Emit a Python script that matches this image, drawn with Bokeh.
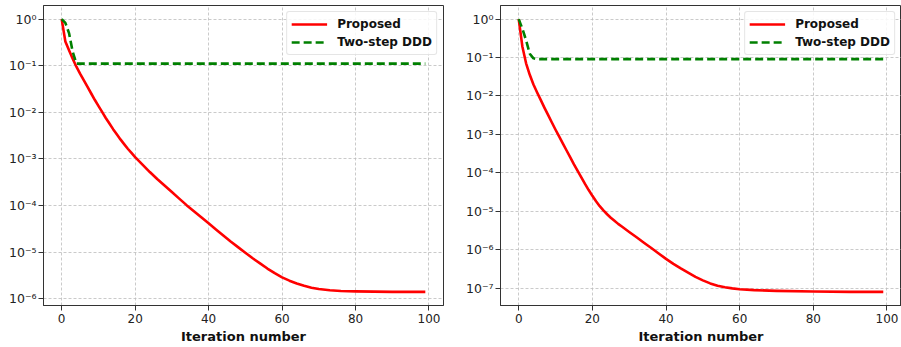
from bokeh.plotting import figure
from bokeh.layouts import row
from bokeh.models import FixedTicker, CustomJSTickFormatter, Range1d
from bokeh.embed import file_html
from bokeh.resources import INLINE

# ---------------- data (as log10 of the value) ----------------
# Left panel
left_prop_iter = [0, 1, 2, 3, 4, 5, 6, 7, 8, 9, 10, 11, 12, 13, 14, 15, 16, 17, 18, 19, 20,
                  22, 24, 26, 28, 30, 32, 34, 36, 38, 40, 42, 44, 46, 48, 50, 52, 54, 56, 58,
                  60, 62, 64, 66, 68, 70, 73, 76, 80, 90, 99]
left_prop_log10 = [0.0, -0.48, -0.67, -0.85, -1.02, -1.17, -1.31, -1.45, -1.59, -1.73, -1.86,
                   -1.99, -2.12, -2.24, -2.36, -2.47, -2.58, -2.68, -2.78, -2.87, -2.96,
                   -3.12, -3.28, -3.43, -3.57, -3.71, -3.85, -3.99, -4.12, -4.25, -4.38,
                   -4.51, -4.64, -4.77, -4.89, -5.01, -5.13, -5.24, -5.35, -5.45,
                   -5.54, -5.61, -5.67, -5.72, -5.76, -5.79, -5.815, -5.83, -5.84, -5.85, -5.85]
left_ddd_iter = [0, 1, 2, 3, 4, 99]
left_ddd_log10 = [0.0, -0.08, -0.30, -0.70, -0.955, -0.955]

# Right panel
right_prop_iter = [0, 1, 2, 3, 4, 5, 6, 7, 8, 9, 10, 11, 12, 13, 14, 15, 16, 17, 18, 19, 20,
                   21, 22, 23, 24, 25, 26, 27, 28, 30, 32, 34, 36, 38, 40, 42, 44, 46, 48,
                   50, 52, 54, 56, 58, 60, 64, 70, 80, 90, 99]
right_prop_log10 = [0.0, -0.72, -1.15, -1.45, -1.70, -1.91, -2.11, -2.31, -2.50, -2.69, -2.88,
                    -3.06, -3.24, -3.42, -3.60, -3.78, -3.95, -4.12, -4.29, -4.45, -4.60,
                    -4.74, -4.87, -4.98, -5.08, -5.17, -5.25, -5.33, -5.40, -5.54, -5.68,
                    -5.82, -5.96, -6.10, -6.24, -6.37, -6.49, -6.60, -6.71,
                    -6.80, -6.88, -6.94, -6.98, -7.01, -7.03, -7.055, -7.075, -7.09, -7.10, -7.10]
right_ddd_iter = [0, 1, 2, 3, 4, 5, 99]
right_ddd_log10 = [0.0, -0.25, -0.55, -0.90, -1.02, -1.04, -1.04]

x_ticks = [0, 20, 40, 60, 80, 100]
left_y_ticks = [1e-6, 1e-5, 1e-4, 1e-3, 1e-2, 1e-1, 1e0]
right_y_ticks = [1e-7, 1e-6, 1e-5, 1e-4, 1e-3, 1e-2, 1e-1, 1e0]
x_label = "Iteration number"
labels = ["Proposed", "Two-step DDD"]

FONT = "DejaVu Sans"

sup_js = r"""
const sup = {'0':'\u2070','1':'\u00B9','2':'\u00B2','3':'\u00B3','4':'\u2074',
             '5':'\u2075','6':'\u2076','7':'\u2077','8':'\u2078','9':'\u2079','-':'\u207B'};
const e = Math.round(Math.log10(tick));
return '10' + String(e).split('').map(c => sup[c]).join('');
"""


def to_val(logs):
    return [10 ** v for v in logs]


def make_panel(prop_x, prop_l, ddd_x, ddd_l, yticks, width, mb_left, mb_right):
    prop_y = to_val(prop_l)
    ddd_y = to_val(ddd_l)
    lo = min(prop_l + ddd_l)
    hi = max(prop_l + ddd_l)
    m = 0.05 * (hi - lo)
    xlo, xhi = 0, 99
    xm = 0.05 * (xhi - xlo)
    p = figure(width=width, height=347, y_axis_type="log",
               x_range=Range1d(xlo - xm, xhi + xm),
               y_range=Range1d(10 ** (lo - m), 10 ** (hi + m)),
               output_backend="svg", toolbar_location=None,
               min_border_left=mb_left, min_border_right=mb_right,
               min_border_top=5, min_border_bottom=42)
    p.background_fill_color = "white"
    p.border_fill_color = "white"
    p.outline_line_color = "#333333"
    p.outline_line_width = 1

    p.line(prop_x, prop_y, color="#ff0000", line_width=2.6, legend_label=labels[0],
           line_join="round")
    p.line(ddd_x, ddd_y, color="#008000", line_width=2.6, line_dash="8 4",
           legend_label=labels[1])

    p.xaxis.ticker = FixedTicker(ticks=x_ticks, minor_ticks=[])
    p.yaxis.ticker = FixedTicker(ticks=yticks, minor_ticks=[])
    p.yaxis.formatter = CustomJSTickFormatter(code=sup_js)

    for ax in [p.xaxis[0], p.yaxis[0]]:
        ax.axis_line_color = "#333333"
        ax.major_tick_line_color = "#333333"
        ax.major_tick_out = 5
        ax.major_tick_in = 0
        ax.minor_tick_line_color = None
        ax.major_label_text_font = FONT
        ax.major_label_text_font_size = "12px"
        ax.major_label_text_color = "#222222"
        ax.major_label_standoff = 2
    p.yaxis.major_label_text_font_size = "12.5px"
    p.xaxis.major_label_standoff = 3
    p.xaxis.axis_label = x_label
    p.xaxis.axis_label_text_font = FONT
    p.xaxis.axis_label_text_font_size = "13px"
    p.xaxis.axis_label_text_font_style = "bold"
    p.xaxis.axis_label_text_color = "#111111"
    p.xaxis.axis_label_standoff = 3

    for g in [p.xgrid[0], p.ygrid[0]]:
        g.grid_line_color = "#bdbdbd"
        g.grid_line_width = 0.8
        g.grid_line_dash = "3 2"

    lg = p.legend[0]
    lg.location = "top_right"
    lg.margin = 6
    lg.padding = 4
    lg.spacing = 2
    lg.glyph_width = 36
    lg.glyph_height = 16
    lg.label_height = 16
    lg.label_standoff = 10
    lg.label_text_font = FONT
    lg.label_text_font_size = "12px"
    lg.label_text_font_style = "bold"
    lg.label_text_color = "#111111"
    lg.border_line_color = "#cccccc"
    lg.border_line_width = 1
    lg.background_fill_color = "white"
    lg.background_fill_alpha = 0.85
    if "border_radius" in lg.properties():
        lg.border_radius = 3
    return p


p1 = make_panel(left_prop_iter, left_prop_log10, left_ddd_iter, left_ddd_log10,
                left_y_ticks, 450, 43, 7)
p2 = make_panel(right_prop_iter, right_prop_log10, right_ddd_iter, right_ddd_log10,
                right_y_ticks, 451, 50, 0)

p = row(p1, p2)
open("out.html", "w").write(file_html(p, INLINE))
